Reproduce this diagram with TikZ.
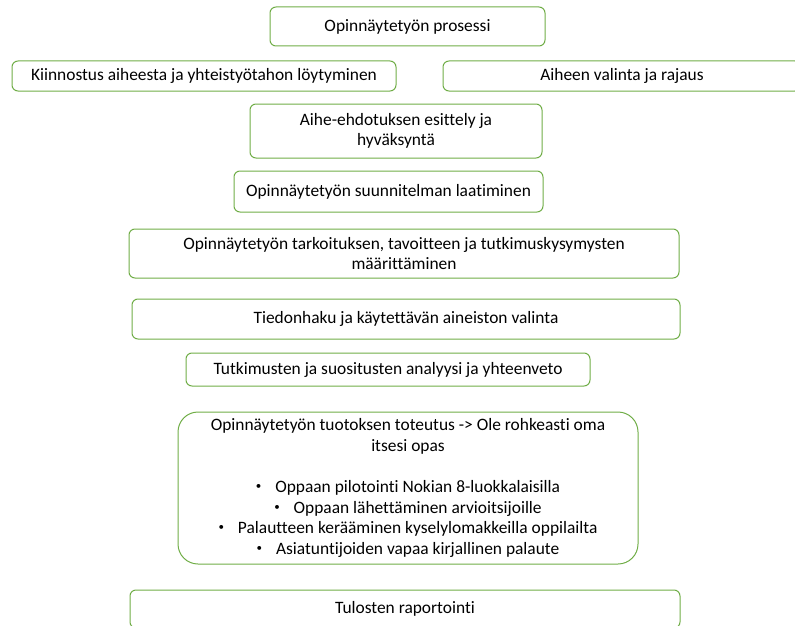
\documentclass[tikz,border=0pt]{standalone}
\usepackage{fontspec}
\setmainfont[Ligatures={NoCommon}]{Carlito}
\definecolor{vihrea}{RGB}{112,173,71}
\newcommand{\pallo}{\raisebox{0.18em}{\fontsize{11}{11}\selectfont\textbullet}\hspace{0.8em}}

\begin{document}
\begin{tikzpicture}[
        x=1pt, y=-1pt,
        every node/.style={draw=vihrea, line width=1pt, rounded corners=6pt, align=center, inner sep=0pt,
                           font=\fontsize{17.4}{20.7}\selectfont},
        isolaatikko/.style={rounded corners=20pt}
        ]
        \useasboundingbox (0,0) rectangle (795,626);
        \clip (0,0) rectangle (795,626);

        \node (prosessi) [minimum width=275pt, minimum height=39pt] at (407.5,26.5) {Opinnäytetyön prosessi};
        \node (kiinnostus) [minimum width=384pt, minimum height=30pt] at (204,76) {Kiinnostus aiheesta ja yhteistyötahon löytyminen};
        \node (valinta) [minimum width=358pt, minimum height=30pt] at (622,76) {Aiheen valinta ja rajaus};
        \node (ehdotus) [minimum width=292pt, minimum height=54pt] at (396,131) {Aihe-ehdotuksen esittely ja\\hyväksyntä};
        \node (suunnitelma) [minimum width=309pt, minimum height=41pt] at (388.5,191.5) {Opinnäytetyön suunnitelman laatiminen};
        \node (tarkoitus) [minimum width=550pt, minimum height=49pt] at (404,253.5) {Opinnäytetyön tarkoituksen, tavoitteen ja tutkimuskysymysten\\määrittäminen};
        \node (tiedonhaku) [minimum width=548pt, minimum height=40pt] at (406,319) {Tiedonhaku ja käytettävän aineiston valinta};
        \node (analyysi) [minimum width=404pt, minimum height=33pt] at (388,369.5) {Tutkimusten ja suositusten analyysi ja yhteenveto};

        % iso laatikko luetteloineen
        \node (tuotos) [isolaatikko, minimum width=460pt, minimum height=152pt] at (408,488)
          {Opinnäytetyön tuotoksen toteutus -> Ole rohkeasti oma\\itsesi opas\\[20.7pt]
           \pallo Oppaan pilotointi Nokian 8-luokkalaisilla\\
           \pallo Oppaan lähettäminen arvioitsijoille\\
           \pallo Palautteen kerääminen kyselylomakkeilla oppilailta\\
           \pallo Asiatuntijoiden vapaa kirjallinen palaute};

        \node (raportointi) [minimum width=550pt, minimum height=38pt] at (405,609) {Tulosten raportointi};
\end{tikzpicture}
\end{document}
